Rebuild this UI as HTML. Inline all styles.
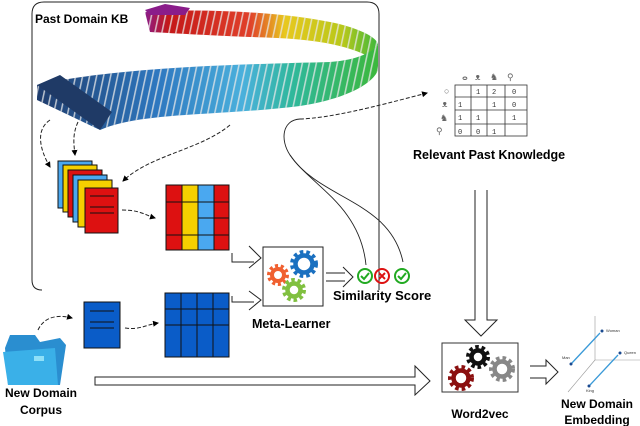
<!DOCTYPE html>
<html><head><meta charset="utf-8"><style>
html,body{margin:0;padding:0;background:#fff;}
svg{display:block;font-family:"Liberation Sans",sans-serif;}
</style></head><body>
<svg width="640" height="426" viewBox="0 0 640 426" xmlns="http://www.w3.org/2000/svg">
<defs>
<linearGradient id="gb" x1="40" y1="0" x2="378" y2="0" gradientUnits="userSpaceOnUse">
<stop offset="0" stop-color="#1f3d6e"/><stop offset="0.35" stop-color="#2e78c0"/><stop offset="0.6" stop-color="#4ab0dc"/><stop offset="0.75" stop-color="#2fb89a"/><stop offset="1" stop-color="#3cb83c"/></linearGradient>
<linearGradient id="gt" x1="145" y1="0" x2="378" y2="0" gradientUnits="userSpaceOnUse">
<stop offset="0" stop-color="#8a1c8a"/><stop offset="0.1" stop-color="#c41818"/><stop offset="0.45" stop-color="#e0402a"/><stop offset="0.6" stop-color="#e8c81e"/><stop offset="0.85" stop-color="#b8c81a"/><stop offset="1" stop-color="#3cb83c"/></linearGradient>
<pattern id="stripes" width="7" height="10" patternUnits="userSpaceOnUse" patternTransform="skewX(-12)">
<rect x="0" y="0" width="1.6" height="10" fill="#e8e8e8" fill-opacity="0.75"/></pattern>
<marker id="ah" markerWidth="6" markerHeight="6" refX="5" refY="3" orient="auto"><path d="M0,0 L6,3 L0,6 z" fill="#000"/></marker>
</defs>
<path d="M379,290 L379,14 Q379,2 367,2 L44,2 Q32,2 32,14 L32,280 Q32,290 42,290" fill="none" stroke="#222" stroke-width="1"/>
<text x="35" y="23" font-size="12" font-weight="bold">Past Domain KB</text>
<path d="M145,12 C200,8 280,12 330,22 C360,28 378,38 378,45 L368,56 C340,42 300,38 250,37 C200,35 170,33 150,32 z" fill="url(#gt)"/>
<path d="M145,12 C200,8 280,12 330,22 C360,28 378,38 378,45 L368,56 C340,42 300,38 250,37 C200,35 170,33 150,32 z" fill="url(#stripes)"/>
<path d="M37,85 C120,66 260,64 330,62 C358,60 372,52 378,45 L378,70 C372,86 340,100 300,106 C220,116 140,112 100,130 L37,100 z" fill="url(#gb)"/>
<path d="M37,85 C120,66 260,64 330,62 C358,60 372,52 378,45 L378,70 C372,86 340,100 300,106 C220,116 140,112 100,130 L37,100 z" fill="url(#stripes)"/>
<path d="M37,85 L60,75 L112,112 L100,130 z" fill="#1f3a66"/>
<path d="M145,10 L165,4 L190,8 L185,15 L150,15 z" fill="#8a1c8a"/>
<g fill="none" stroke="#222" stroke-width="1" stroke-dasharray="4 2">
<path d="M50,120 C35,130 40,150 50,167" marker-end="url(#ah)"/>
<path d="M78,122 C72,135 74,145 75,155" marker-end="url(#ah)"/>
<path d="M230,125 C200,150 150,155 123,181" marker-end="url(#ah)"/>
<path d="M122,210 C140,210 145,215 155,218" marker-end="url(#ah)"/>
<path d="M38,330 C45,315 60,315 72,318" marker-end="url(#ah)"/>
<path d="M125,328 C140,330 145,325 158,323" marker-end="url(#ah)"/>
<path d="M300,119 C330,118 370,108 427,93" marker-end="url(#ah)"/>
</g>
<g fill="none" stroke="#222" stroke-width="0.9">
<path d="M300,119 C282,120 280,140 290,155 C310,185 360,205 366,265"/>
<path d="M290,155 C320,200 390,200 403,262"/>
<path d="M379,268 L379,14"/>
</g>
<g stroke="#111" stroke-width="1">
<rect x="58" y="161" width="34" height="47" fill="#4aa8f0"/>
<rect x="63" y="165" width="34" height="47" fill="#f5d000"/>
<rect x="68" y="170" width="34" height="47" fill="#dd1111"/>
<rect x="73" y="175" width="34" height="47" fill="#4aa8f0"/>
<rect x="78" y="180" width="34" height="47" fill="#f5d000"/>
<rect x="85" y="188" width="33" height="45" fill="#dd1111"/>
<path d="M90,196 H114 M90,207 H114 M90,213 H114"/>
</g>
<g stroke="#111" stroke-width="1">
<rect x="166" y="185" width="16" height="65" fill="#dd1111"/>
<rect x="182" y="185" width="16" height="65" fill="#f5d000"/>
<rect x="198" y="185" width="16" height="65" fill="#4aa8f0"/>
<rect x="214" y="185" width="15" height="65" fill="#dd1111"/>
<path d="M166,202 H229 M198,218 H229 M166,235 H229"/>
</g>
<g stroke="#111" stroke-width="1">
<rect x="84" y="302" width="36" height="46" fill="#0a5cc8"/>
<path d="M90,311 H114 M90,322 H114 M90,328 H114"/>
<rect x="165" y="293" width="64" height="64" fill="#0a5cc8"/>
<path d="M181,293 V357 M197,293 V357 M213,293 V357 M165,309 H229 M165,325 H229"/>
</g>
<g fill="none" stroke="#222" stroke-width="1">
<path d="M232,253 V262 H254 M249,246 L261,258 L249,268"/>
<path d="M232,296 V302 H254 M249,291 L261,300 L249,310"/>
<path d="M326,273 H345 M326,281 H345 M343,267 L353,277 L343,287"/>
<path d="M95,377 H415 V366 L430,381 L415,395 V385 H95 z" fill="#fff"/>
<path d="M475,190 V320 H465 L481,336 L497,320 H487 V190" fill="#fff"/>
<path d="M530,366 H546 V360 L558,372 L546,384 V378 H530" fill="#fff"/>
</g>
<rect x="263" y="247" width="60" height="59" fill="#fff" stroke="#222"/>
<g fill="none">
<circle cx="278" cy="275" r="9" stroke="#f06030" stroke-width="4" stroke-dasharray="3 2.6"/>
<circle cx="278" cy="275" r="6" stroke="#f06030" stroke-width="4"/>
<circle cx="304" cy="264" r="12" stroke="#1a70c0" stroke-width="4" stroke-dasharray="3.5 3"/>
<circle cx="304" cy="264" r="8.5" stroke="#1a70c0" stroke-width="4.5"/>
<circle cx="294" cy="290" r="10" stroke="#80c040" stroke-width="4" stroke-dasharray="3.5 2.8"/>
<circle cx="294" cy="290" r="6.5" stroke="#80c040" stroke-width="4.5"/>
</g>
<g fill="none" stroke-width="2">
<circle cx="365" cy="276" r="7" stroke="#22aa22"/><path d="M361,276 l3,3 l5,-6" stroke="#22aa22"/>
<circle cx="382" cy="276" r="7" stroke="#dd1111"/><path d="M379,273 l6,6 M385,273 l-6,6" stroke="#dd1111"/>
<circle cx="402" cy="276" r="7" stroke="#22aa22"/><path d="M398,276 l3,3 l5,-6" stroke="#22aa22"/>
</g>
<text x="333" y="300" font-size="13" font-weight="bold">Similarity Score</text>
<text x="252" y="328" font-size="12.5" font-weight="bold">Meta-Learner</text>
<path d="M5,348 L10,335 L35,335 L40,342 L60,338 L66,345 L60,385 L8,385 z" fill="#2a8ed0"/>
<path d="M3,352 L55,348 L58,385 L8,385 z" fill="#3ab0e8"/>
<rect x="34" y="356" width="10" height="5" fill="#8fe0f8"/>
<text x="41" y="397" font-size="12" font-weight="bold" text-anchor="middle">New Domain</text>
<text x="41" y="414" font-size="12" font-weight="bold" text-anchor="middle">Corpus</text>
<g stroke="#333" stroke-width="0.8" fill="none">
<rect x="455" y="85" width="72" height="51"/>
<path d="M471,85 V136 M487,85 V136 M505,85 V136 M455,97 H527 M455,110 H527 M455,124 H527"/>
</g>
<g font-size="7" font-family="Liberation Mono,monospace" fill="#333">
<text x="476" y="94">1</text><text x="492" y="94">2</text><text x="512" y="94">0</text>
<text x="458" y="107">1</text><text x="492" y="107">1</text><text x="512" y="107">0</text>
<text x="458" y="120">1</text><text x="476" y="120">1</text><text x="512" y="120">1</text>
<text x="458" y="134">0</text><text x="476" y="134">0</text><text x="492" y="134">1</text>
</g>
<g font-size="9" fill="#666"><text x="462" y="80">ⴰ</text><text x="475" y="80">ᴥ</text><text x="490" y="80">♞</text><text x="507" y="80">⚲</text>
<text x="444" y="94">○</text><text x="442" y="107">ᴥ</text><text x="440" y="121">♞</text><text x="436" y="134">⚲</text></g>
<text x="413" y="159" font-size="12.5" font-weight="bold">Relevant Past Knowledge</text>
<rect x="442" y="343" width="76" height="49" fill="#fff" stroke="#333"/>
<g fill="none">
<circle cx="478" cy="357" r="10" stroke="#111" stroke-width="4" stroke-dasharray="3.5 2.8"/>
<circle cx="478" cy="357" r="6.5" stroke="#111" stroke-width="4.5"/>
<circle cx="461" cy="378" r="11" stroke="#8b1010" stroke-width="4" stroke-dasharray="3.5 3"/>
<circle cx="461" cy="378" r="7.5" stroke="#8b1010" stroke-width="4.5"/>
<circle cx="502" cy="369" r="11" stroke="#888" stroke-width="4" stroke-dasharray="3.5 3"/>
<circle cx="502" cy="369" r="7.5" stroke="#888" stroke-width="4.5"/>
</g>
<text x="480" y="418" font-size="12" font-weight="bold" text-anchor="middle">Word2vec</text>
<g stroke="#999" stroke-width="0.6" fill="none"><path d="M595,316 V360 H640 M595,360 L568,392"/></g>
<g stroke="#3a9ad8" stroke-width="1.3"><path d="M571,364 L600,333"/><path d="M590,385 L618,355"/></g>
<g fill="#1a4a90"><circle cx="571" cy="364" r="1.5"/><circle cx="602" cy="331" r="1.5"/><circle cx="589" cy="386" r="1.5"/><circle cx="620" cy="353" r="1.5"/></g>
<g font-size="4" fill="#333"><text x="562" y="359">Man</text><text x="606" y="332">Woman</text><text x="624" y="354">Queen</text><text x="586" y="392">King</text></g>
<text x="597" y="408" font-size="12" font-weight="bold" text-anchor="middle">New Domain</text>
<text x="597" y="424" font-size="12" font-weight="bold" text-anchor="middle">Embedding</text>
</svg>
</body></html>
